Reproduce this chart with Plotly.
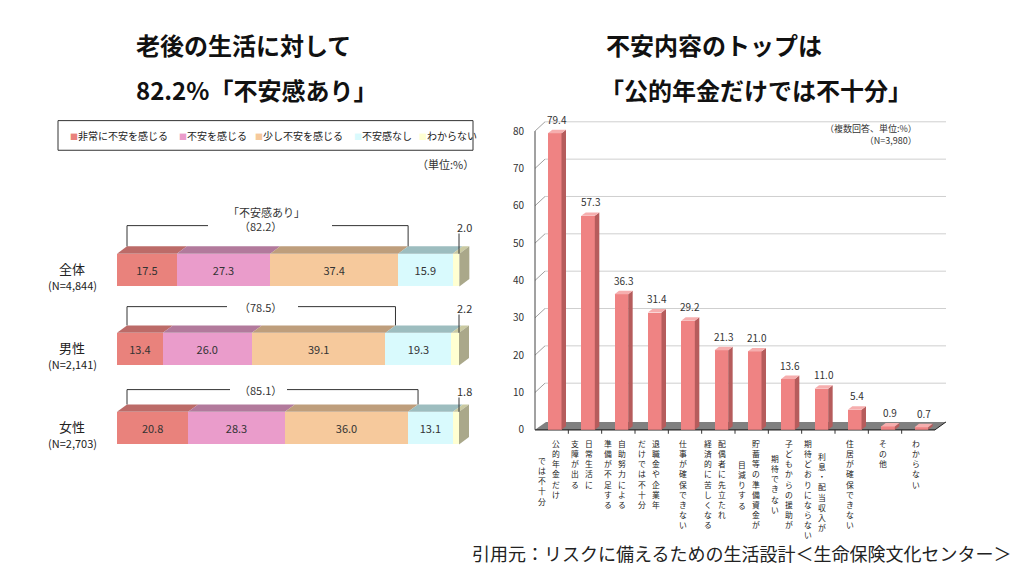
import plotly.graph_objects as go

W, H = 1024, 576
OFF = 8  # page body margin of the browser
FONT = "Noto Sans CJK JP"

# ---------------- data ----------------
left_rows = ["全体", "男性", "女性"]
left_n = ["(N=4,844)", "(N=2,141)", "(N=2,703)"]
series_names = ["非常に不安を感じる", "不安を感じる", "少し不安を感じる", "不安感なし", "わからない"]
very_anxious = [17.5, 13.4, 20.8]
anxious = [27.3, 26.0, 28.3]
little_anxious = [37.4, 39.1, 36.0]
not_anxious = [15.9, 19.3, 13.1]
dont_know = [2.0, 2.2, 1.8]
anxious_total = [82.2, 78.5, 85.1]

right_labels = [
    ["公的年金だけ", "では不十分"],
    ["日常生活に", "支障が出る"],
    ["自助努力による", "準備が不足する"],
    ["退職金や企業年", "だけでは不十分"],
    ["仕事が確保できない"],
    ["配偶者に先立たれ", "経済的に苦しくなる"],
    ["貯蓄等の準備資金が", "目減りする"],
    ["子どもからの援助が", "期待できない"],
    ["利息・配当収入が", "期待どおりにならない"],
    ["住居が確保できない"],
    ["その他"],
    ["わからない"],
]
right_values = [79.4, 57.3, 36.3, 31.4, 29.2, 21.3, 21.0, 13.6, 11.0, 5.4, 0.9, 0.7]
y_ticks = [0, 10, 20, 30, 40, 50, 60, 70, 80]

# ---------------- styles ----------------
front_cols = ["#E9827C", "#EA9CCB", "#F6C99C", "#D9FAFD", "#FFFFD2"]
top_cols = ["#BC6B68", "#B27A9C", "#BE9E7C", "#9DBDBF", "#CACAA2"]
side_col = "#AAA88A"
bar_front = "#EF8383"
bar_top = "#F6AEAE"
bar_side = "#B65C5C"
label_indent = {0: [0, 17], 6: [0, 22], 7: [0, 15], 8: [13, 0]}
bracket_gap = [21, 19, 15]
bracket_text_gap = [(208, 332), (227, 298), (230, 287)]

# ---------------- geometry helpers ----------------
def px(xp, yp):
    return (xp - OFF) / W, 1 - (yp - OFF) / H

def dx_(xp):
    return (xp - OFF) / W

def dy_(yp):
    return 1 - (yp - OFF) / H

# left chart mapping
L_X0, L_SCALE = 117.0, 3.42
L_Y0, L_STEP = 273.3, 80.0
BAR_H = 33.0
LDX, LDY = 10.0, 7.5

def lxp(v):
    return L_X0 + v * L_SCALE

def lyp(i):
    return L_Y0 + i * L_STEP

# right chart mapping
R_X0, R_STEP = 535.0, 400.0 / 12
R_Y0, R_SCALE = 435.0, 3.78
RDX, RDY = 4.5, 3.5

def rxp(u):
    return R_X0 + (u + 0.5) * R_STEP

def ryp(v):
    return R_Y0 - v * R_SCALE

def path(points):
    pts = [px(a, b) for a, b in points]
    return "M " + " L ".join(f"{x:.5f},{y:.5f}" for x, y in pts) + " Z"

shapes = []
annotations = []

def poly(points, fill, layer="above"):
    shapes.append(dict(type="path", xref="paper", yref="paper", path=path(points),
                       fillcolor=fill, line=dict(width=0), layer=layer))

def seg(x0, y0, x1, y1, color="#333333", width=1, layer="above"):
    a, b = px(x0, y0)
    c, d = px(x1, y1)
    shapes.append(dict(type="line", xref="paper", yref="paper", x0=a, y0=b, x1=c, y1=d,
                       line=dict(color=color, width=width), layer=layer))

def ann(text, xp, yp, size, xanchor="center", yanchor="middle", color="#222222", **kw):
    a, b = px(xp, yp)
    annotations.append(dict(text=text, x=a, y=b, xref="paper", yref="paper", showarrow=False,
                            xanchor=xanchor, yanchor=yanchor,
                            font=dict(size=size, color=color, family=FONT), **kw))

fig = go.Figure()

# ---------------- left stacked bars ----------------
left_series = [very_anxious, anxious, little_anxious, not_anxious, dont_know]
rows = list(range(len(left_rows)))
for k, (name, vals) in enumerate(zip(series_names, left_series)):
    fig.add_trace(go.Bar(
        orientation="h", y=rows, x=vals, name=name, width=BAR_H / L_STEP,
        marker=dict(color=front_cols[k], line=dict(width=0)),
        text=[f"{v:.1f}" for v in vals] if k < 4 else None,
        textposition="inside" if k < 4 else "none", insidetextanchor="middle",
        textfont=dict(size=11, color="#333333", family=FONT), textangle=0,
        xaxis="x", yaxis="y", hoverinfo="skip"))

for i in rows:
    top = lyp(i) - BAR_H / 2
    bot = lyp(i) + BAR_H / 2
    start = 0.0
    for k, vals in enumerate(left_series):
        end = start + vals[i]
        poly([(lxp(start), top), (lxp(end), top), (lxp(end) + LDX, top - LDY),
              (lxp(start) + LDX, top - LDY)], top_cols[k])
        start = end
    xe = lxp(start)
    poly([(xe, top), (xe, bot), (xe + LDX, bot - LDY), (xe + LDX, top - LDY)], side_col)

    # bracket for "不安感あり"
    by = top - LDY - bracket_gap[i]
    xl = lxp(0) + LDX
    xr = lxp(anxious_total[i]) + LDX
    seg(xl, top - LDY, xl, by)
    seg(xr, top - LDY, xr, by)
    g0, g1 = bracket_text_gap[i]
    seg(xl, by, g0, by)
    seg(g1, by, xr, by)
    ann(f"（{anxious_total[i]:.1f}）", 260, by, 11, color="#333333")
    if i == 0:
        ann("「不安感あり」", 266, by - 14, 11, color="#333333")
    # don't know label
    ann(f"{dont_know[i]:.1f}", lxp(100) + 5, by + 1, 11, color="#333333")
    seg(lxp(100), by + 8, lxp(100), top, color="#333333")

    ann(left_rows[i], 72, lyp(i) - 2, 13, color="#222222")
    ann(left_n[i], 72, lyp(i) + 15, 11, color="#222222")

# legend box
a0 = px(58, 122)
a1 = px(473, 152)
shapes.append(dict(type="rect", xref="paper", yref="paper", x0=a0[0], y0=a1[1], x1=a1[0], y1=a0[1],
                   line=dict(color="#333333", width=1), fillcolor="rgba(0,0,0,0)"))
legend_x = [68, 177, 253, 352, 417]
for k, name in enumerate(series_names):
    ann(f'<span style="color:{front_cols[k]};font-size:8px">■</span>{name}', legend_x[k], 137, 10,
        xanchor="left", color="#222222")
ann("（単位:%）", 476, 166, 11, xanchor="right", color="#333333")

# ---------------- right bar chart ----------------
n = len(right_values)
FDX, FDY = 11.0, 8.0
poly([(R_X0, R_Y0), (R_X0 + 400, R_Y0), (R_X0 + 400 + FDX, R_Y0 - FDY), (R_X0 + FDX, R_Y0 - FDY)],
     "#808080", layer="below")
seg(R_X0, R_Y0, R_X0 + 400, R_Y0, color="#222222", width=1.2, layer="below")
seg(R_X0 + 400, R_Y0, R_X0 + 400 + FDX, R_Y0 - FDY, color="#222222", width=1, layer="below")
for t in y_ticks[1:]:
    seg(R_X0, ryp(t), R_X0 + 10, ryp(t) - 9.4, color="#888888", width=0.8, layer="below")
    seg(R_X0 + 10, ryp(t) - 9.4, R_X0 + 400 + FDX, ryp(t) - 9.4, color="#CFCFCF", width=1, layer="below")
seg(R_X0, R_Y0, R_X0, ryp(y_ticks[-1]), color="#444444", width=1, layer="below")
for k in range(1, n):
    xk = R_X0 + k * R_STEP
    seg(xk, R_Y0, xk, R_Y0 + 4, color="#333333", width=1)

BAR_OFF = 0.09
BAR_W = 0.41
xs = [i + BAR_OFF for i in range(n)]
fig.add_trace(go.Bar(x=xs, y=right_values, width=BAR_W, marker=dict(color=bar_front, line=dict(width=0)),
                     xaxis="x2", yaxis="y2", hoverinfo="skip", name="不安内容"))
for i, v in enumerate(right_values):
    x0 = rxp(xs[i] - BAR_W / 2)
    x1 = rxp(xs[i] + BAR_W / 2)
    yt = ryp(v)
    yb = ryp(0)
    poly([(x1, yb), (x1, yt), (x1 + RDX, yt - RDY), (x1 + RDX, yb - RDY)], bar_side)
    poly([(x0, yt), (x1, yt), (x1 + RDX, yt - RDY), (x0 + RDX, yt - RDY)], bar_top)
    ann(f"{v:.1f}", (x0 + x1 + RDX) / 2, yt - RDY - 1, 10, yanchor="bottom", color="#333333")

# vertical category labels: each column is a stack of characters, read right-to-left
LAB_SIZE = 7.8
for i, cols in enumerate(right_labels):
    c = rxp(i)
    offs = [-2] if len(cols) == 1 else [4, -10]
    ind = label_indent.get(i, [0] * len(cols))
    for j, col in enumerate(cols):
        ann("<br>".join(col), c + offs[j], 442 + ind[j], LAB_SIZE, yanchor="top",
            color="#222222", borderpad=0)

ann("（複数回答、単位:%）<br>（N=3,980）", 918, 136, 9, xanchor="right", align="right",
    color="#333333", borderpad=0)

# ---------------- titles & source ----------------
ann("<b>老後の生活に対して</b>", 134, 45, 24, xanchor="left", color="#111111")
ann("<b>82.2%「不安感あり」</b>", 134, 90, 24, xanchor="left", color="#111111")
ann("<b>不安内容のトップは</b>", 604, 45, 24, xanchor="left", color="#111111")
ann("<b>「公的年金だけでは不十分」</b>", 598, 90, 24, xanchor="left", color="#111111")
ann("引用元：リスクに備えるための生活設計＜生命保険文化センター＞", 471, 560, 18, xanchor="left",
    color="#222222", borderpad=0)

fig.update_layout(
    width=W, height=H, margin=dict(l=0, r=0, t=0, b=0),
    paper_bgcolor="white", plot_bgcolor="white", showlegend=False, barmode="stack",
    font=dict(family=FONT),
    xaxis=dict(domain=[dx_(L_X0), dx_(L_X0 + 100 * L_SCALE)], range=[0, 100], visible=False),
    yaxis=dict(domain=[dy_(L_Y0 + 2.5 * L_STEP), dy_(L_Y0 - 0.5 * L_STEP)],
               range=[2.5, -0.5], visible=False),
    xaxis2=dict(domain=[dx_(R_X0), dx_(R_X0 + 400)], range=[-0.5, n - 0.5], showgrid=False,
                zeroline=False, showticklabels=False, showline=False, anchor="y2"),
    yaxis2=dict(domain=[dy_(R_Y0), dy_(R_Y0 - 85 * R_SCALE)], range=[0, 85],
                tickvals=y_ticks, showgrid=False, zeroline=False, showline=False, ticks="",
                tickfont=dict(size=10, color="#333333", family=FONT), ticklabelstandoff=10,
                anchor="x2"),
    shapes=shapes, annotations=annotations,
)

fig.write_html("out.html")
